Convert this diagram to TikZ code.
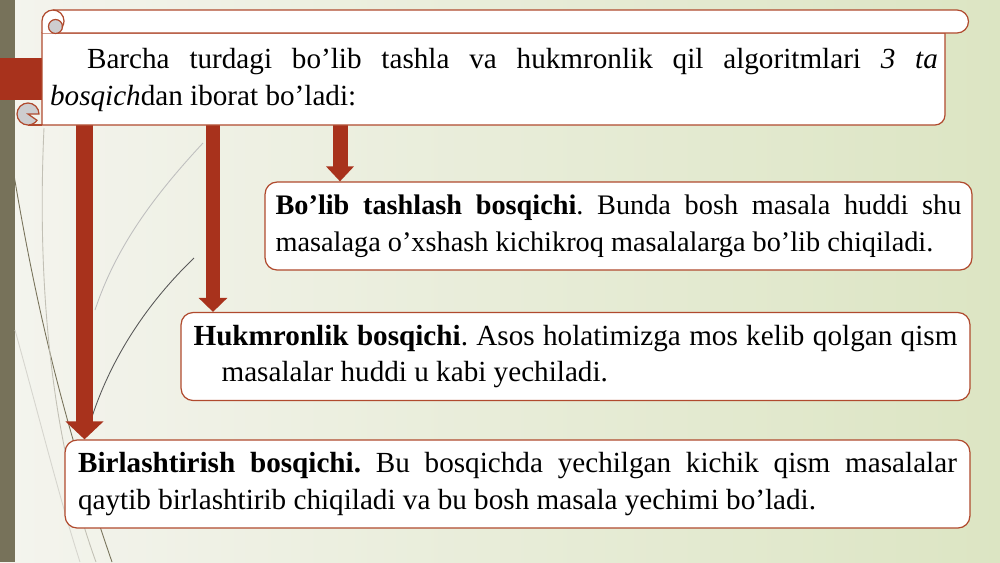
\documentclass[tikz,border=0pt]{standalone}
\usepackage{fontspec}
\setmainfont{Liberation Serif}
\usepackage{tikz}
\usetikzlibrary{arrows.meta,positioning,calc}
\frenchspacing
\definecolor{bgleft}{HTML}{F4F4EE}
\definecolor{bgright}{HTML}{DCE5C3}
\definecolor{striprule}{HTML}{77725A}
\definecolor{tabred}{HTML}{A8321C}
\definecolor{framered}{HTML}{B04A2E}
\definecolor{curlgray}{HTML}{CDCDCF}
\tikzset{
  stagebox/.style={draw=framered, line width=0.7pt, fill=white, rounded corners=0.24cm,
    align=justify, minimum height=1.76cm, font=\fontsize{16.6pt}{21pt}\selectfont},
  scrollline/.style={draw=framered, line width=0.7pt, fill=white},
  curl/.style={draw=framered, line width=0.7pt, fill=curlgray},
  bigarrow/.style args={#1/#2/#3}{draw=tabred, line width=#1,
    -{Triangle[width=#2, length=#3]}, tabred},
  grass/.style={line width=0.5pt}
}
\newcommand{\stagename}[1]{\textbf{#1}}

\begin{document}
\begin{tikzpicture}[x=0.02cm, y=-0.02cm]
          \useasboundingbox (0,0) rectangle (1000,562);
          \shade[left color=bgleft, right color=bgright] (0,0) rectangle (1000,562);
          \fill[striprule] (0,0) rectangle (15,562);

          \draw[grass, striprule] (14,175) .. controls (40,330) and (70,440) .. (112,562);
          \draw[grass, striprule!45] (44,128) .. controls (36,300) and (55,450) .. (96,562);
          \draw[grass, striprule!30] (15,330) .. controls (40,420) and (60,500) .. (80,562);
          \draw[grass, black!65] (194,258) .. controls (140,310) and (105,370) .. (88,430);
          \draw[grass, black!25] (203,143) .. controls (150,200) and (115,250) .. (95,310);

          \node[stagebox, text width=13.72cm, inner xsep=0.21cm, minimum width=14.14cm,
            font=\fontsize{16.1pt}{21pt}\selectfont]
            (split) at (618.5,226)
            {\stagename{Bo’lib tashlash bosqichi}. Bunda bosh masala huddi shu\linebreak
             masalaga o’xshash kichikroq masalalarga bo’lib chiqiladi.\par};
          \node[stagebox, text width=15.28cm, inner xsep=0.25cm, minimum width=15.78cm]
            (rule) at (575.5,356.5)
            {\hangindent=0.56cm \hangafter=1
             \stagename{Hukmronlik bosqichi}. Asos holatimizga mos kelib qolgan qism\linebreak
             masalalar huddi u kabi yechiladi.\par};
          \node[stagebox, text width=17.58cm, inner xsep=0.26cm, minimum width=18.1cm]
            (merge) at (517.5,484)
            {\stagename{Birlashtirish bosqichi.} Bu bosqichda yechilgan kichik qism masalalar\linebreak
             qaytib birlashtirib chiqiladi va bu bosh masala yechimi bo’ladi.\par};

          \coordinate (s1) at (84.5,120);
          \coordinate (s2) at (213,120);
          \coordinate (s3) at (340,120);
          \draw[bigarrow=0.34cm/0.74cm/0.36cm] (s1) -- (s1 |- merge.north);
          \draw[bigarrow=0.28cm/0.56cm/0.28cm] (s2) -- (s2 |- rule.north);
          \draw[bigarrow=0.30cm/0.54cm/0.30cm] (s3) -- (s3 |- split.north);

          \fill[tabred] (0,58) rectangle (43,100);

          \draw[scrollline] (42,33) -- (945,33) -- (945,115)
            arc[start angle=0, end angle=-90, radius=0.2cm] -- (42,125) -- cycle;
          \draw[framered, line width=0.7pt] (42,125) -- (28,125);
          \draw[curl] (28,114) -- ++(0:0.22cm)
            arc[start angle=0, end angle=325, radius=0.22cm] -- cycle;

          \draw[scrollline] (42,33) -- (42,21)
            arc[start angle=180, end angle=90, radius=0.22cm] -- (957,10)
            arc[start angle=90, end angle=-90, radius=0.23cm] -- (56,33);
          \draw[curl] (55.5,26.5) circle[radius=0.14cm];
          \draw[framered, line width=0.7pt] (53,10)
            arc[start angle=90, end angle=-35, radius=0.22cm];

          \node[font=\fontsize{16.6pt}{21pt}\selectfont, text width=17.76cm, align=justify,
            inner sep=0pt] (intro) at (494,80)
            {\hspace*{0.74cm}Barcha turdagi bo’lib tashla va hukmronlik qil algoritmlari \textit{3 ta}\linebreak
             \textit{bosqich}dan iborat bo’ladi:\par};
\end{tikzpicture}
\end{document}
